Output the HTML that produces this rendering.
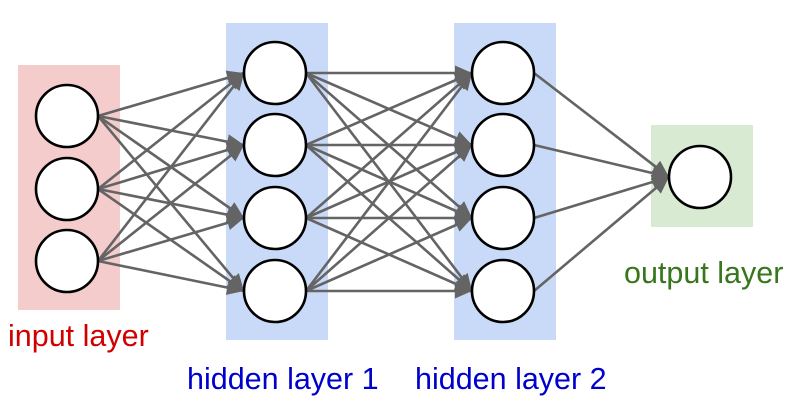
<!DOCTYPE html>
<html><head><style>
html,body{margin:0;padding:0;background:#fff;}
svg{display:block}
text{font-family:"Liberation Sans",Arial,sans-serif;font-size:30.5px}
</style></head><body>
<svg width="794" height="407" viewBox="0 0 794 407" xmlns="http://www.w3.org/2000/svg">
<defs>
<marker id="ah" viewBox="0 0 10 10" refX="10" refY="5" markerWidth="17" markerHeight="15" markerUnits="userSpaceOnUse" orient="auto" preserveAspectRatio="none">
<path d="M0,0 L10,5 L0,10 z" fill="#646464"/>
</marker>
</defs>
<rect x="18" y="65" width="102" height="245" fill="#f4cccc"/>
<rect x="226" y="23" width="102" height="317" fill="#c9daf8"/>
<rect x="454" y="23" width="102" height="317" fill="#c9daf8"/>
<rect x="651" y="125" width="102" height="102" fill="#d9ead3"/>
<g stroke="#646464" stroke-width="2.6" marker-end="url(#ah)" id="e"></g>
<script>
var g=document.getElementById('e'),ns='http://www.w3.org/2000/svg';
function ln(x1,y1,x2,y2){var l=document.createElementNS(ns,'line');l.setAttribute('x1',x1);l.setAttribute('y1',y1);l.setAttribute('x2',x2);l.setAttribute('y2',y2);g.appendChild(l);}
var iy=[116,189,261],hy=[73,145,218,291];
iy.forEach(function(a){hy.forEach(function(b){ln(98,a,244,b);});});
hy.forEach(function(a){hy.forEach(function(b){ln(306,a,472,b);});});
hy.forEach(function(a){ln(534,a,669,177);});
</script>
<g fill="#fff" stroke="#000" stroke-width="2.6">
<circle cx="67" cy="116" r="31"/><circle cx="67" cy="189" r="31"/><circle cx="67" cy="261" r="31"/>
<circle cx="275" cy="73" r="31"/><circle cx="275" cy="145" r="31"/><circle cx="275" cy="218" r="31"/><circle cx="275" cy="291" r="31"/>
<circle cx="503" cy="73" r="31"/><circle cx="503" cy="145" r="31"/><circle cx="503" cy="218" r="31"/><circle cx="503" cy="291" r="31"/>
<circle cx="700" cy="177" r="31"/>
</g>
<text x="8" y="346" fill="#d00000">input layer</text>
<text x="187" y="389" fill="#0000cc">hidden layer 1</text>
<text x="415" y="389" fill="#0000cc">hidden layer 2</text>
<text x="624" y="283" fill="#38761d">output layer</text>
</svg>
</body></html>
